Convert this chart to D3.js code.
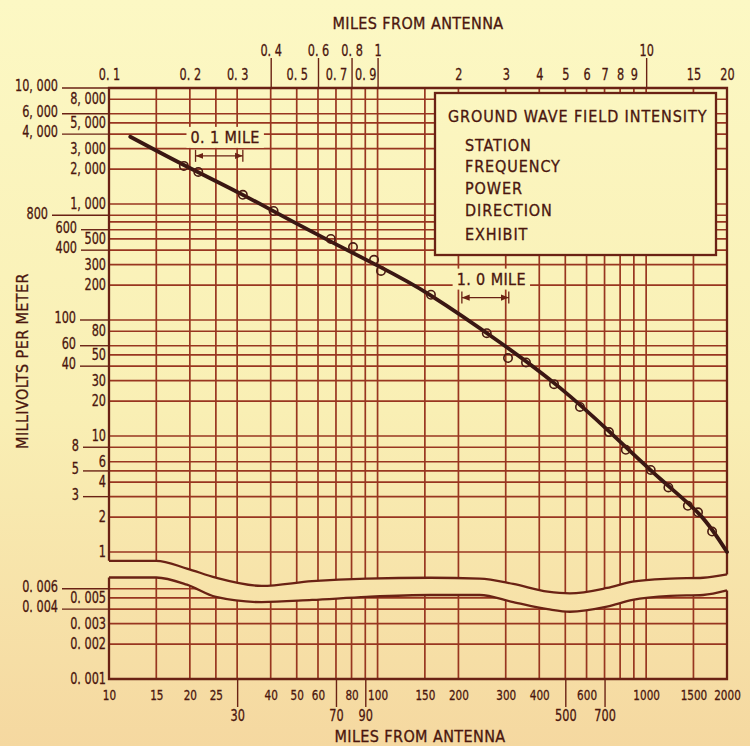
<!DOCTYPE html>
<html>
<head>
	<title>Ground wave field intensity</title>
	<meta charset="utf-8">
	<script type="text/javascript" src="https://cdn.jsdelivr.net/npm/d3@7/dist/d3.min.js"></script>
	<style type="text/css">
		body { margin: 0; background: #f8ebb8; }
		text {
			font-family: "Liberation Sans Narrow", "DejaVu Sans Condensed", "Liberation Sans", sans-serif;
			fill: #4a160e;
			stroke: #4a160e;
			stroke-width: 0.3;
		}
		.grid line { stroke: #983620; stroke-width: 1.7; }
		.border { stroke: #6a2214; stroke-width: 2.3; fill: none; }
		.tick-label { font-size: 16.5px; }
		.tick-label.narrow { font-size: 14.5px; }
		.axis-title { font-size: 16px; letter-spacing: 0.4px; }
		.legend-text { font-size: 16px; letter-spacing: 0.9px; }
		.curve { fill: none; stroke: #3a1713; stroke-width: 3.8; stroke-linecap: round; }
		.point { fill: none; stroke: #4a1a12; stroke-width: 1.6; }
		.dim line { stroke: #6a2214; stroke-width: 1.3; }
	</style>
</head>
<body>
<script type="text/javascript">
	var width = 750;
	var height = 746;

	// grid lines (miles on the lower scale, millivolts per meter)
	var gridMiles = [10, 15, 20, 25, 30, 40, 50, 60, 70, 80, 90, 100, 150, 200, 300, 400, 500, 600, 700, 800, 900, 1000, 1500, 2000];
	var gridMv = [1, 2, 3, 4, 5, 6, 8, 10, 20, 30, 40, 50, 60, 80, 100, 200, 300, 400, 500, 600, 700, 800, 1000, 2000, 3000, 4000, 5000, 6000, 8000];
	var gridMvLow = [0.002, 0.003, 0.004, 0.005, 0.006];

	// top scale labels (miles)
	var topRow1 = [0.4, 0.6, 0.8, 1, 10];
	var topRow1Text = ["0. 4", "0. 6", "0. 8", "1", "10"];
	var topRow2 = [0.1, 0.2, 0.3, 0.5, 0.7, 0.9, 2, 3, 4, 5, 6, 7, 8, 9, 15, 20];
	var topRow2Text = ["0. 1", "0. 2", "0. 3", "0. 5", "0. 7", "0. 9", "2", "3", "4", "5", "6", "7", "8", "9", "15", "20"];

	// bottom scale labels (miles)
	var bottomRow1 = [10, 15, 20, 25, 40, 50, 60, 80, 100, 150, 200, 300, 400, 600, 1000, 1500, 2000];
	var bottomRow2 = [30, 70, 90, 500, 700];

	// left scale labels
	var leftOuter = [10000, 6000, 4000, 800, 600, 400, 100, 60, 40, 8, 5, 3];
	var leftOuterText = ["10, 000", "6, 000", "4, 000", "800", "600", "400", "100", "60", "40", "8", "5", "3"];
	var leftInner = [8000, 5000, 3000, 2000, 1000, 500, 300, 200, 80, 50, 30, 20, 10, 6, 4, 2, 1];
	var leftInnerText = ["8, 000", "5, 000", "3, 000", "2, 000", "1, 000", "500", "300", "200", "80", "50", "30", "20", "10", "6", "4", "2", "1"];
	var lowOuter = [0.006, 0.004];
	var lowOuterText = ["0. 006", "0. 004"];
	var lowInner = [0.005, 0.003, 0.002, 0.001];
	var lowInnerText = ["0. 005", "0. 003", "0. 002", "0. 001"];

	// field intensity curve (miles, mV/m)
	var curveMiles = [0.12, 0.19, 0.315, 0.51, 1.0, 1.57, 2.86, 4.78, 7.33, 11.25, 15.9, 20];
	var curveMv = [3800, 2170, 1200, 660, 294, 164, 64, 26, 10.8, 4.3, 2.08, 1.0];

	// measured points (miles, mV/m)
	var pointMiles = [0.19, 0.215, 0.315, 0.41, 0.67, 0.81, 0.97, 1.03, 1.58, 2.55, 3.06, 3.57, 4.54, 5.67, 7.27, 8.4, 10.4, 12.1, 14.3, 15.6, 17.6];
	var pointMv = [2130, 1890, 1200, 870, 500, 425, 330, 265, 165, 77, 47, 43, 28, 17.8, 10.8, 7.6, 5.1, 3.6, 2.5, 2.2, 1.5];

	// scale break (miles on lower scale, edge of upper part, edge of lower part)
	var breakMiles = [10, 15, 19.5, 25, 37, 57, 91, 157, 240, 320, 430, 520, 715, 890, 1230, 1630, 2000];
	var breakTop = [0.84, 0.84, 0.72, 0.6, 0.51, 0.56, 0.59, 0.6, 0.59, 0.53, 0.455, 0.44, 0.49, 0.555, 0.59, 0.6, 0.64];
	var breakBottom = [0.0075, 0.0075, 0.0065, 0.0051, 0.0046, 0.0048, 0.0051, 0.0053, 0.0053, 0.0046, 0.004, 0.0038, 0.0042, 0.0048, 0.0052, 0.0053, 0.0058];

	var legendTitle = "GROUND WAVE FIELD INTENSITY";
	var legendItems = ["STATION", "FREQUENCY", "POWER", "DIRECTION", "EXHIBIT"];

	// scales
	var x = d3.scaleLog().domain([10, 2000]).range([109, 727]);
	var xTop = d3.scaleLog().domain([0.1, 20]).range([109, 727]);
	var yU = d3.scaleLog().domain([1, 10000]).range([552, 88]);
	var yL = d3.scaleLog().domain([0.001, 0.01]).range([679, 563]);

	var pLeft = 109, pRight = 727, pTop = yU(10000), pBottom = yL(0.001);
	var ink = "#6a2214";

	// where an outer label ends (its tick line starts just after)
	var outerLabelRight = {10000: 58, 6000: 58, 4000: 58, 800: 48, 600: 77, 400: 77, 100: 76, 60: 76, 40: 76, 8: 79, 5: 79, 3: 79};

	var svg = d3.select("body").append("svg")
		.attr("width", width)
		.attr("height", height);

	var defs = svg.append("defs");
	var grad = defs.append("linearGradient")
		.attr("id", "paper")
		.attr("gradientUnits", "userSpaceOnUse")
		.attr("x1", 0).attr("y1", 0).attr("x2", 0).attr("y2", height);
	grad.append("stop").attr("offset", "0").attr("stop-color", "#fcf8c4");
	grad.append("stop").attr("offset", "0.55").attr("stop-color", "#f9efb4");
	grad.append("stop").attr("offset", "1").attr("stop-color", "#f5d8a0");

	defs.append("marker")
		.attr("id", "arrow")
		.attr("viewBox", "0 0 10 10")
		.attr("refX", 10).attr("refY", 5)
		.attr("markerWidth", 6).attr("markerHeight", 6)
		.attr("orient", "auto-start-reverse")
		.append("path")
		.attr("d", "M0,1 L10,5 L0,9 Z")
		.attr("fill", ink);

	svg.append("rect")
		.attr("width", width).attr("height", height)
		.attr("fill", "url(#paper)");

	var breakData = breakMiles.map(function(m, i){
		return {m: m, top: breakTop[i], bot: breakBottom[i]};
	});

	// clip regions either side of the break
	var upperArea = d3.area()
		.x(function(d){ return x(d.m); })
		.y0(pTop)
		.y1(function(d){ return yU(d.top); })
		.curve(d3.curveMonotoneX);
	var lowerArea = d3.area()
		.x(function(d){ return x(d.m); })
		.y0(function(d){ return yL(d.bot); })
		.y1(pBottom)
		.curve(d3.curveMonotoneX);

	defs.append("clipPath").attr("id", "clipUpper")
		.append("path").attr("d", upperArea(breakData));
	defs.append("clipPath").attr("id", "clipLower")
		.append("path").attr("d", lowerArea(breakData));

	// upper grid
	var gU = svg.append("g").attr("class", "grid").attr("clip-path", "url(#clipUpper)");
	gU.selectAll(".v").data(gridMiles).enter().append("line")
		.attr("x1", function(d){ return x(d); })
		.attr("x2", function(d){ return x(d); })
		.attr("y1", pTop).attr("y2", pBottom);
	gU.selectAll(".h").data(gridMv).enter().append("line")
		.attr("x1", pLeft).attr("x2", pRight)
		.attr("y1", function(d){ return yU(d); })
		.attr("y2", function(d){ return yU(d); });

	// lower grid
	var gL = svg.append("g").attr("class", "grid").attr("clip-path", "url(#clipLower)");
	gL.selectAll(".v").data(gridMiles).enter().append("line")
		.attr("x1", function(d){ return x(d); })
		.attr("x2", function(d){ return x(d); })
		.attr("y1", pTop).attr("y2", pBottom);
	gL.selectAll(".h").data(gridMvLow).enter().append("line")
		.attr("x1", pLeft).attr("x2", pRight)
		.attr("y1", function(d){ return yL(d); })
		.attr("y2", function(d){ return yL(d); });

	// borders and break edges
	var edgeTop = d3.line()
		.x(function(d){ return x(d.m); })
		.y(function(d){ return yU(d.top); })
		.curve(d3.curveMonotoneX);
	var edgeBot = d3.line()
		.x(function(d){ return x(d.m); })
		.y(function(d){ return yL(d.bot); })
		.curve(d3.curveMonotoneX);
	var first = breakData[0], last = breakData[breakData.length - 1];

	svg.append("path").attr("class", "border")
		.attr("d", "M" + pLeft + "," + yU(first.top) + "V" + pTop + "H" + pRight + "V" + yU(last.top));
	svg.append("path").attr("class", "border").attr("d", edgeTop(breakData));
	svg.append("path").attr("class", "border")
		.attr("d", "M" + pLeft + "," + yL(first.bot) + "V" + pBottom + "H" + pRight + "V" + yL(last.bot));
	svg.append("path").attr("class", "border").attr("d", edgeBot(breakData));

	// legend box
	var lg = svg.append("g");
	lg.append("rect")
		.attr("x", 435).attr("y", 93).attr("width", 281).attr("height", 162)
		.attr("fill", "url(#paper)")
		.attr("stroke", ink).attr("stroke-width", 2.3);
	lg.append("text").attr("class", "legend-text")
		.attr("x", 448).attr("y", 122)
		.text(legendTitle);
	lg.selectAll(".item").data(legendItems).enter().append("text")
		.attr("class", "legend-text")
		.attr("x", 465)
		.attr("y", function(d, i){ return [151, 172, 194, 216, 240][i]; })
		.text(function(d){ return d; });

	// dimension marks
	function dimension(m1, m2, mv, label) {
		var g = svg.append("g").attr("class", "dim");
		var yy = yU(mv);
		g.append("line").attr("x1", xTop(m1)).attr("x2", xTop(m2)).attr("y1", yy).attr("y2", yy)
			.attr("marker-start", "url(#arrow)").attr("marker-end", "url(#arrow)");
		[m1, m2].forEach(function(m){
			g.append("line").attr("x1", xTop(m)).attr("x2", xTop(m)).attr("y1", yy - 6).attr("y2", yy + 6);
		});
		var t = g.append("text").attr("class", "axis-title")
			.attr("x", (xTop(m1) + xTop(m2)) / 2 + 6)
			.attr("y", yy - 13)
			.attr("text-anchor", "middle")
			.text(label);
		var bb = t.node().getBBox();
		g.insert("rect", "text")
			.attr("x", bb.x - 4).attr("y", bb.y - 1)
			.attr("width", bb.width + 8).attr("height", bb.height + 2)
			.attr("fill", "url(#paper)");
	}
	dimension(0.21, 0.315, 2600, "0. 1 MILE");
	dimension(2.06, 3.08, 156, "1. 0 MILE");

	// field intensity curve
	var line = d3.line()
		.x(function(d){ return xTop(d[0]); })
		.y(function(d){ return yU(d[1]); })
		.curve(d3.curveNatural);
	svg.append("path").attr("class", "curve")
		.attr("d", line(curveMiles.map(function(m, i){ return [m, curveMv[i]]; })));

	svg.selectAll(".point").data(pointMiles).enter().append("circle")
		.attr("class", "point")
		.attr("cx", function(d){ return xTop(d); })
		.attr("cy", function(d, i){ return yU(pointMv[i]); })
		.attr("r", 4.2);

	// top and bottom axes
	var topAxis1 = d3.axisTop(xTop).tickValues(topRow1)
		.tickFormat(function(d, i){ return topRow1Text[i]; })
		.tickSize(30).tickPadding(2);
	var topAxis2 = d3.axisTop(xTop).tickValues(topRow2)
		.tickFormat(function(d, i){ return topRow2Text[i]; })
		.tickSize(0).tickPadding(8);
	var bottomAxis1 = d3.axisBottom(x).tickValues(bottomRow1)
		.tickFormat(function(d){ return d; })
		.tickSize(0).tickPadding(11);
	var bottomAxis2 = d3.axisBottom(x).tickValues(bottomRow2)
		.tickFormat(function(d){ return d; })
		.tickSize(28).tickPadding(2);

	function styleAxis(g) {
		g.select(".domain").remove();
		g.attr("font-family", null).attr("font-size", null);
		g.selectAll("line").attr("stroke", ink).attr("stroke-width", 1.4);
		g.selectAll("text").attr("class", "tick-label").attr("fill", null);
	}
	svg.append("g").attr("transform", "translate(0," + pTop + ")").call(topAxis1).call(styleAxis);
	svg.append("g").attr("transform", "translate(0," + pTop + ")").call(topAxis2).call(styleAxis);
	svg.append("g").attr("transform", "translate(0," + pBottom + ")").call(bottomAxis1).call(styleAxis)
		.selectAll("text").classed("narrow", true);
	svg.append("g").attr("transform", "translate(0," + pBottom + ")").call(bottomAxis2).call(styleAxis);

	// left labels: inner column
	function innerLabels(vals, texts, scale) {
		svg.append("g").selectAll("text").data(vals).enter().append("text")
			.attr("class", "tick-label")
			.attr("x", 106)
			.attr("y", function(d){ return scale(d); })
			.attr("dy", "0.3em")
			.attr("text-anchor", "end")
			.text(function(d, i){ return texts[i]; });
	}
	innerLabels(leftInner, leftInnerText, yU);
	innerLabels(lowInner, lowInnerText, yL);

	// left labels: outer column with long ticks
	function outerLabels(vals, texts, scale, rightOf) {
		var g = svg.append("g");
		g.selectAll("line").data(vals).enter().append("line")
			.attr("x1", function(d){ return rightOf(d) + 4; })
			.attr("x2", pLeft)
			.attr("y1", function(d){ return scale(d); })
			.attr("y2", function(d){ return scale(d); })
			.attr("stroke", ink).attr("stroke-width", 1.4);
		g.selectAll("text").data(vals).enter().append("text")
			.attr("class", "tick-label")
			.attr("x", function(d){ return rightOf(d); })
			.attr("y", function(d){ return scale(d); })
			.attr("dy", "0.2em")
			.attr("text-anchor", "end")
			.text(function(d, i){ return texts[i]; });
	}
	outerLabels(leftOuter, leftOuterText, yU, function(d){ return outerLabelRight[d]; });
	outerLabels(lowOuter, lowOuterText, yL, function(){ return 58; });

	// axis titles
	svg.append("text").attr("class", "axis-title")
		.attr("x", 418).attr("y", 29).attr("text-anchor", "middle")
		.text("MILES FROM ANTENNA");
	svg.append("text").attr("class", "axis-title")
		.attr("x", 420).attr("y", 742).attr("text-anchor", "middle")
		.text("MILES FROM ANTENNA");
	svg.append("text").attr("class", "axis-title")
		.attr("transform", "translate(28,361) rotate(-90)")
		.attr("text-anchor", "middle")
		.text("MILLIVOLTS PER METER");

	// squeeze the tick numbers to the narrow hand lettering
	svg.selectAll(".tick-label").each(function(){
		var w = this.getComputedTextLength();
		var f = d3.select(this).classed("narrow") ? 0.8 : 0.76;
		d3.select(this).attr("textLength", w * f).attr("lengthAdjust", "spacingAndGlyphs");
	});
</script>
</body>
</html>
